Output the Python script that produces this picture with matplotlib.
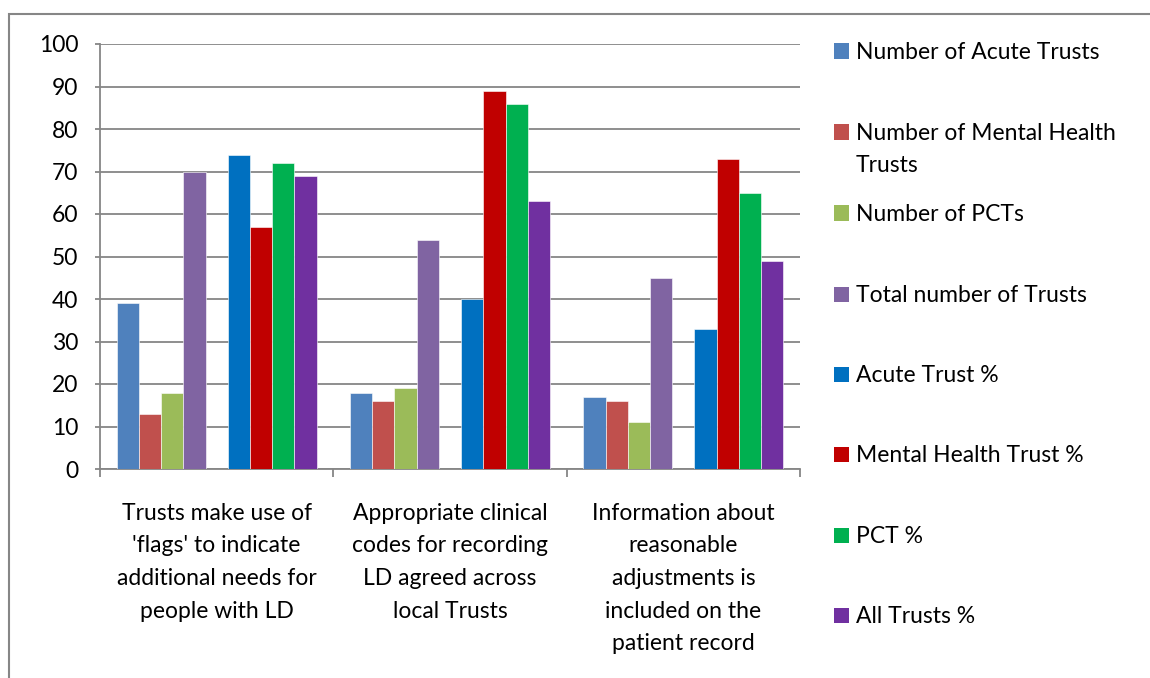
import matplotlib
matplotlib.use("Agg")
import matplotlib.pyplot as plt
from matplotlib.patches import Rectangle
import numpy as np

categories = [
    "Trusts make use of\n'flags' to indicate\nadditional needs for\npeople with LD",
    "Appropriate clinical\ncodes for recording\nLD agreed across\nlocal Trusts",
    "Information about\nreasonable\nadjustments is\nincluded on the\npatient record",
]
series_names = [
    "Number of Acute Trusts",
    "Number of Mental Health\nTrusts",
    "Number of PCTs",
    "Total number of Trusts",
    "Acute Trust %",
    "Mental Health Trust %",
    "PCT %",
    "All Trusts %",
]
acute_n = [39, 18, 17]
mh_n = [13, 16, 16]
pct_n = [18, 19, 11]
total_n = [70, 54, 45]
acute_pct = [74, 40, 33]
mh_pct = [57, 89, 73]
pct_pct = [72, 86, 65]
all_pct = [69, 63, 49]
series = [acute_n, mh_n, pct_n, total_n, acute_pct, mh_pct, pct_pct, all_pct]
colors = ["#4F81BD", "#C0504D", "#9BBB59", "#8064A2",
          "#0070C0", "#C00000", "#00B050", "#7030A0"]

plt.rcParams["font.family"] = ["Lato", "DejaVu Sans"]
FS = 16.5
LINE = 32.5  # px between text lines
W, H = 1150, 678
fig = plt.figure(figsize=(W / 100, H / 100), dpi=100)

def px(x0, y0, x1, y1):
    return [x0 / W, 1 - y1 / H, (x1 - x0) / W, (y1 - y0) / H]

ax = fig.add_axes(px(100, 44, 800, 469))
grey = "#868686"

# 9 slots per category (slot 5 is an empty series), excel gap 150%
bw = 1 / 10.5
slots = [0, 1, 2, 3, 5, 6, 7, 8]
x = np.arange(len(categories)) + 0.5
for i, (vals, c) in enumerate(zip(series, colors)):
    off = (slots[i] - 4) * bw
    ax.bar(x + off, vals, width=bw, color=c, edgecolor="white",
           linewidth=0.4, zorder=3)

ax.set_xlim(0, 3)
ax.set_ylim(0, 100)
ax.set_yticks(range(0, 101, 10))
ax.yaxis.grid(True, color=grey, linewidth=1.3, zorder=0)
ax.set_xticks([0, 1, 2, 3])
ax.set_xticklabels([])
ax.tick_params(axis="y", length=3.6, width=1.3, color=grey, labelsize=FS, pad=12)
ax.tick_params(axis="x", length=5.8, width=1.3, color=grey)
for s in ["top", "right"]:
    ax.spines[s].set_visible(False)
for s in ["left", "bottom"]:
    ax.spines[s].set_color(grey)
    ax.spines[s].set_linewidth(1.3)

# category labels, one line at a time so baselines are fixed
for xi, lab in zip(x, categories):
    for k, line in enumerate(lab.split("\n")):
        yb = 520 + k * LINE
        ax.text(xi, -(yb - 469) / 425, line, ha="center", va="baseline",
                fontsize=FS, transform=ax.get_xaxis_transform())

# legend
leg_y = [51, 132, 213, 294, 374, 454, 535, 615]
for name, c, y in zip(series_names, colors, leg_y):
    fig.patches.append(Rectangle((834 / W, 1 - (y + 7.5) / H), 15 / W, 15 / H,
                                 facecolor=c, edgecolor="none",
                                 transform=fig.transFigure))
    for k, line in enumerate(name.split("\n")):
        fig.text(856 / W, 1 - (y + 8 + k * LINE) / H, line, ha="left",
                 va="baseline", fontsize=FS)

# outer chart border
fig.patches.append(Rectangle((9 / W, -0.1), 1.2, 1 - 14 / H + 0.1,
                             facecolor="none", edgecolor=grey, linewidth=1.5,
                             transform=fig.transFigure))

fig.savefig("out.png", dpi=100)
